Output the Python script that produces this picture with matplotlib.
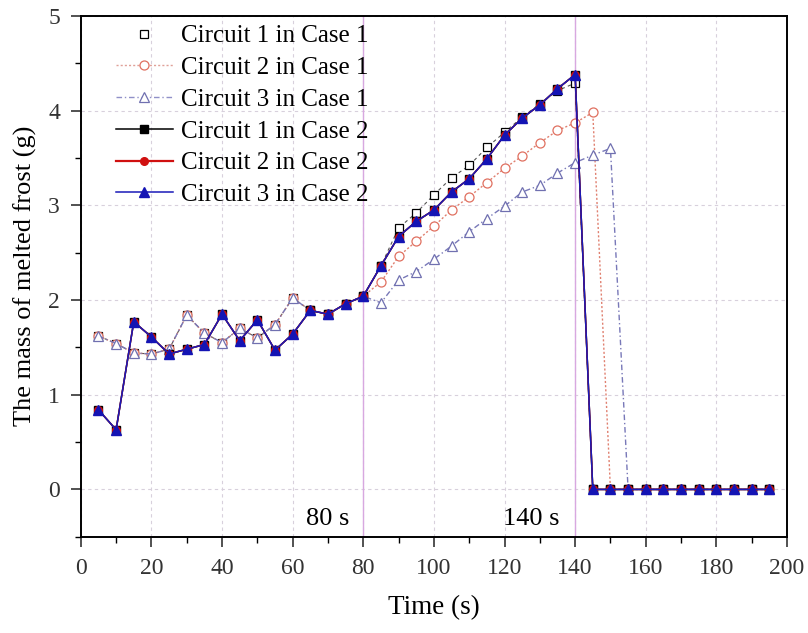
import matplotlib
matplotlib.use("Agg")
import matplotlib.pyplot as plt
from matplotlib.ticker import MultipleLocator
from matplotlib.lines import Line2D

plt.rcParams['font.family'] = ['Liberation Serif', 'DejaVu Serif']

time = list(range(5, 200, 5))

# Case 1: common part before 80 s
case1_early = [1.62, 1.54, 1.44, 1.43, 1.48, 1.84, 1.65, 1.55, 1.70, 1.60,
               1.74, 2.02, 1.89, 1.85, 1.96, 2.04]
c1_case1_late = [2.36, 2.76, 2.92, 3.11, 3.29, 3.42, 3.61, 3.77, 3.93, 4.07,
                 4.21, 4.29]
c2_case1_late = [2.19, 2.46, 2.62, 2.78, 2.95, 3.09, 3.24, 3.39, 3.52, 3.66,
                 3.79, 3.87, 3.98]
c3_case1_late = [1.97, 2.21, 2.30, 2.43, 2.57, 2.72, 2.86, 2.99, 3.14, 3.21,
                 3.34, 3.45, 3.53, 3.60]

case2 = [0.84, 0.63, 1.77, 1.61, 1.43, 1.48, 1.53, 1.85, 1.57, 1.79,
         1.47, 1.64, 1.89, 1.85, 1.96, 2.04, 2.36, 2.67, 2.83, 2.95,
         3.14, 3.28, 3.49, 3.74, 3.92, 4.06, 4.23, 4.38]


def pad_zeros(vals):
    return vals + [0.0] * (len(time) - len(vals))


c1_case1 = pad_zeros(case1_early + c1_case1_late)
c2_case1 = pad_zeros(case1_early + c2_case1_late)
c3_case1 = pad_zeros(case1_early + c3_case1_late)
c1_case2 = pad_zeros(case2)
c2_case2 = pad_zeros(case2)
c3_case2 = pad_zeros(case2)

fig = plt.figure(figsize=(8.08, 6.33), dpi=100)
ax = fig.add_axes([0.100, 0.152, 0.874, 0.823])

ms = 6.5
ax.plot(time, c1_case1, color='#555555', ls=(0, (3, 3)), lw=0.8,
        marker='s', mfc='white', mec='black', ms=ms - 1, mew=0.9)
ax.plot(time, c2_case1, color='#e08070', ls=(0, (1.5, 1.5)), lw=1.0,
        marker='o', mfc='white', mec='#e07060', ms=ms, mew=0.9)
ax.plot(time, c3_case1, color='#7878b8', ls=(0, (4, 2, 1, 2)), lw=1.0,
        marker='^', mfc='white', mec='#7070b0', ms=ms + 0.5, mew=0.9)
ax.plot(time, c1_case2, color='black', ls='-', lw=1.1,
        marker='s', mfc='black', mec='black', ms=ms - 1)
ax.plot(time, c2_case2, color='#d01010', ls='-', lw=1.1,
        marker='o', mfc='#d01010', mec='#d01010', ms=ms - 1)
ax.plot(time, c3_case2, color='#1a1ab8', ls='-', lw=1.1,
        marker='^', mfc='#1414b4', mec='#1414b4', ms=ms + 1)

# markers of stage boundaries
for xv in (80, 140):
    ax.axvline(xv, color='#d8a8e0', lw=1.0, zorder=1)
ax.text(70, -0.31, '80 s', fontsize=19, ha='center', va='center')
ax.text(127.5, -0.31, '140 s', fontsize=19, ha='center', va='center')

ax.set_xlim(0, 200)
ax.set_ylim(-0.5, 5)
ax.xaxis.set_major_locator(MultipleLocator(20))
ax.xaxis.set_minor_locator(MultipleLocator(10))
ax.yaxis.set_major_locator(MultipleLocator(1))
ax.yaxis.set_minor_locator(MultipleLocator(0.5))
ax.grid(True, which='major', color='#d8d0dc', ls=(0, (3, 3)), lw=0.8)
ax.set_axisbelow(True)

ax.tick_params(which='major', direction='out', length=7, width=1.2,
               labelsize=17, colors='#333333', pad=8)
ax.tick_params(which='minor', direction='out', length=4, width=1.0)
for s in ax.spines.values():
    s.set_linewidth(1.4)

ax.set_xlabel('Time (s)', fontsize=19.5, labelpad=12)
ax.set_ylabel('The mass of melted frost (g)', fontsize=19, labelpad=8)

handles = [
    Line2D([], [], ls='none', marker='s', mfc='white', mec='black',
           ms=ms - 1, mew=0.9),
    Line2D([], [], color='#e0a098', ls=(0, (1.5, 1.5)), lw=1.0,
           marker='o', mfc='white', mec='#e07060', ms=ms, mew=0.9),
    Line2D([], [], color='#9090c8', ls=(0, (4, 2, 1, 2)), lw=1.0,
           marker='^', mfc='white', mec='#7070b0', ms=ms + 0.5, mew=0.9),
    Line2D([], [], color='black', lw=1.1, marker='s', mfc='black',
           mec='black', ms=ms - 1),
    Line2D([], [], color='#d01010', lw=1.6, marker='o', mfc='#d01010',
           mec='#d01010', ms=ms - 1),
    Line2D([], [], color='#1a1ab8', lw=1.1, marker='^', mfc='#1414b4',
           mec='#1414b4', ms=ms),
]
labels = ['Circuit 1 in Case 1', 'Circuit 2 in Case 1', 'Circuit 3 in Case 1',
          'Circuit 1 in Case 2', 'Circuit 2 in Case 2', 'Circuit 3 in Case 2']
ax.legend(handles, labels, loc='upper left', bbox_to_anchor=(0.035, 1.002),
          frameon=False, fontsize=18, handlelength=2.3, handletextpad=0.3,
          labelspacing=0.37, borderaxespad=0.0)

fig.savefig('out.png', dpi=100)
